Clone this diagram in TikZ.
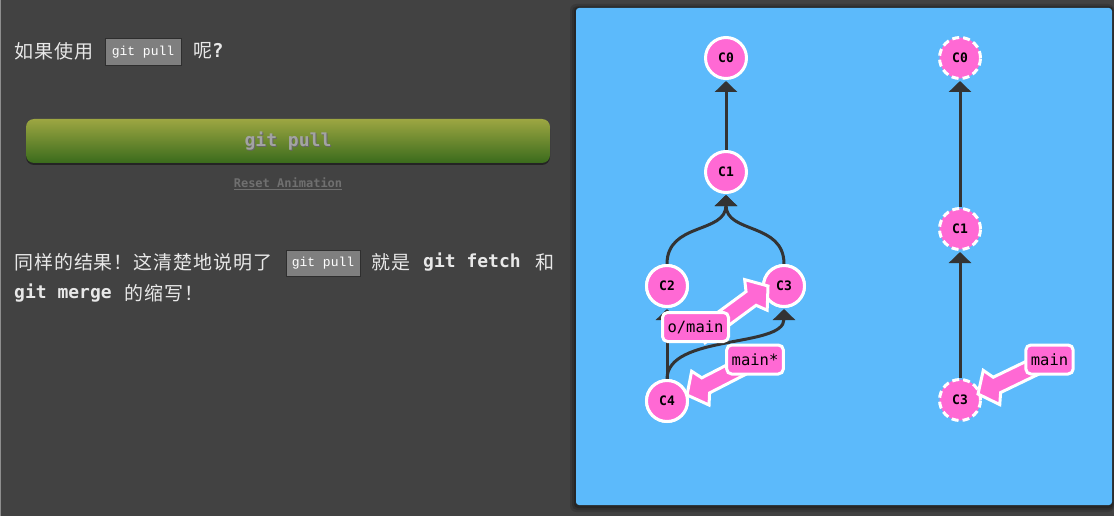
\documentclass[tikz,border=0pt]{standalone}
\usepackage{fontspec}
\setmainfont{Noto Sans CJK SC}
\newfontfamily\cjk[LetterSpace=5]{Noto Sans CJK SC}
\newfontfamily\codefont{Liberation Mono}
\newfontfamily\mono{DejaVu Sans Mono}
\usetikzlibrary{arrows.meta,calc}
\definecolor{bgc}{HTML}{424242}
\definecolor{panelc}{HTML}{5CBAFB}
\definecolor{pinkc}{HTML}{FF69D4}
\definecolor{edgec}{HTML}{333333}
\definecolor{cbf}{HTML}{7F7F7F}
\definecolor{cbd}{HTML}{2E2E2E}
\definecolor{txtc}{HTML}{E8E8E8}
\definecolor{btntop}{HTML}{9DA642}
\definecolor{btnbot}{HTML}{3A6B1C}
\newcommand\brarrow[2]{\draw[brarrowst] let \p1=(#1), \p2=(#2), \n1={atan2(\y2-\y1,\x2-\x1)}, \n2={veclen(\x2-\x1,\y2-\y1)} in [shift={(\p2)}, rotate=\n1] (0,0) -- (-15,19) -- (-21,8.5) -- (-\n2,8.5) -- (-\n2,-8.5) -- (-21,-8.5) -- (-15,-19) -- cycle;}
\begin{document}
\begin{tikzpicture}[x=1pt,y=-1pt,
  commit/.style={circle, fill=pinkc, draw=white, line width=3pt, minimum size=41pt, inner sep=0pt, font=\mono\bfseries\fontsize{13}{13}\selectfont},
  ghost/.style={commit, dash pattern=on 7pt off 4pt},
  edge/.style={draw=edgec, line width=3pt, -{Triangle[width=22pt,length=11pt]}, shorten >=1pt},
  branch/.style={rectangle, rounded corners=5pt, fill=pinkc, draw=white, line width=3pt, minimum height=29pt, inner xsep=5pt, inner ysep=0pt, font=\mono\fontsize{15.5}{16}\selectfont},
  brarrowst/.style={fill=pinkc, draw=white, line width=3pt, line join=miter},
  txt/.style={anchor=west, inner sep=0pt, text=txtc, font=\cjk\fontsize{19}{22}\selectfont},
  mtxt/.style={anchor=west, inner sep=0pt, text=txtc, font=\mono\bfseries\fontsize{18}{22}\selectfont},
  codebox/.style={rectangle, fill=cbf, draw=cbd, line width=1pt, inner sep=0pt, text=white, font=\codefont\fontsize{13}{13}\selectfont}
]
\useasboundingbox (0,0) rectangle (1114,516);
\fill[bgc] (0,0) rectangle (1114,516);
\draw[white!40!bgc, line width=1pt] (0.5,0) -- (0.5,516);
% panel shadow and panel
\fill[black, opacity=0.12, rounded corners=6pt] (570,4) rectangle (1114,512);
\fill[black, opacity=0.15, rounded corners=5pt] (572,6) rectangle (1114,510);
\fill[black, opacity=0.2, rounded corners=4pt] (574,7) rectangle (1113,508);
\fill[panelc, rounded corners=3pt] (576,8) rectangle (1112,505);

% left text
\node[txt] (t1) at (14,51) {如果使用};
\node[codebox, minimum width=76pt, minimum height=27pt] (code1) at (143,52) {git pull};
\node[txt] (t2) at (193,51) {呢{\mono\bfseries ?}};

% button
\fill[black, opacity=0.45, rounded corners=8pt] (26,121) rectangle (550,165);
\shade[top color=btntop, bottom color=btnbot, rounded corners=8pt] (26,119) rectangle (550,163);
\node[inner sep=0pt, text=black!60, font=\mono\bfseries\fontsize{18}{20}\selectfont] (btnshadow) at (289,142) {git pull};
\node[inner sep=0pt, text=white!64!black, font=\mono\bfseries\fontsize{18}{20}\selectfont] (btn) at (288,141) {git pull};
\node[inner sep=0pt, text=white!44!black, font=\mono\bfseries\fontsize{12}{14}\selectfont] (reset) at (288,184) {\underline{Reset Animation}};

% paragraph
\node[txt] (t3) at (14,262) {同样的结果！这清楚地说明了};
\node[codebox, minimum width=74pt, minimum height=26pt] (code2) at (323,263) {git pull};
\node[txt] (t4) at (371,262) {就是};
\node[mtxt] (t5) at (423,262) {git fetch};
\node[txt] (t6) at (535,262) {和};
\node[mtxt] (t7) at (14,293) {git merge};
\node[txt] (t8) at (124,293) {的缩写！};

% left graph
\node[commit] (C0) at (726,58) {C0};
\node[commit] (C1) at (726,172) {C1};
\node[commit] (C2) at (667,286) {C2};
\node[commit] (C3) at (784,286) {C3};
\node[commit] (C4) at (667,401) {C4};
\draw[edge] (C1) -- (C0);
\draw[edge] (C2.north) .. controls +(0,-42) and +(0,40) .. (C1.south);
\draw[edge] (C3.north) .. controls +(0,-42) and +(0,40) .. (C1.south);
\draw[edge] (C4) -- (C2);
\draw[edge] (C4.north) .. controls +(0,-45) and +(0,40) .. (C3.south);
\node[commit] at (C2) {C2};
\node[commit] at (C3) {C3};
\node[commit] at (C4) {C4};

\node (omainref) at (700,336) {};
\coordinate (tipA) at (768,286);
\coordinate (tipB) at (687,395);
\brarrow{omainref.center}{tipA}
\node (mainsref) at (755,360) {};
\brarrow{mainsref.center}{tipB}
\node[branch] (omain) at (695.5,327) {o/main};
\node[branch] (mains) at (755,359.5) {main*};

% right graph
\node[ghost] (R0) at (960,58) {C0};
\node[ghost] (R1) at (960,229) {C1};
\node[ghost] (R3) at (960,400) {C3};
\draw[edge] (R1) -- (R0);
\draw[edge] (R3) -- (R1);
\node (mainref) at (1049.5,359.5) {};
\coordinate (tipC) at (978,394);
\brarrow{mainref.center}{tipC}
\node[branch] (mainr) at (1049.5,359.5) {main};
\end{tikzpicture}
\end{document}
